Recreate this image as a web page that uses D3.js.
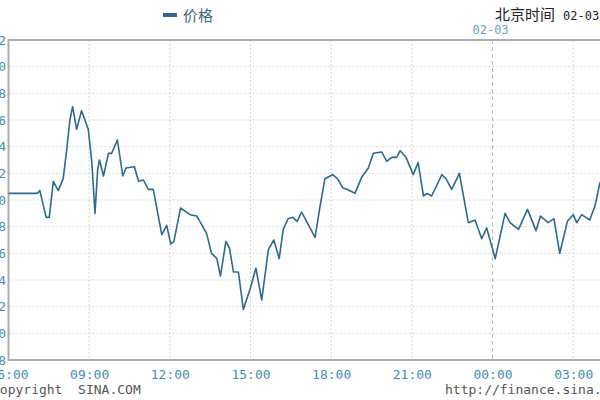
<!DOCTYPE html>
<html>
<head>
<meta charset="utf-8">
<script src="https://cdn.jsdelivr.net/npm/d3@7"></script>
<style>
  body { margin: 0; background: #fff; }
  svg { display: block; }
</style>
</head>
<body>
<svg id="chart"></svg>
<script>
// DATA
const times = [
  "06:00", "07:04", "07:10", "07:24", "07:31", "07:40", "07:51", "08:02", "08:10", "08:17",
  "08:23", "08:32", "08:43", "08:58", "09:06", "09:13", "09:19", "09:23", "09:32", "09:43",
  "09:50", "10:03", "10:15", "10:22", "10:41", "10:50", "11:01", "11:12", "11:23", "11:42",
  "11:53", "12:02", "12:09", "12:24", "12:45", "13:00", "13:07", "13:22", "13:33", "13:45",
  "13:53", "14:05", "14:13", "14:22", "14:33", "14:44", "14:59", "15:12", "15:25", "15:40",
  "15:52", "16:04", "16:13", "16:24", "16:34", "16:44", "16:54", "17:05", "17:24", "17:35",
  "17:46", "18:03", "18:14", "18:26", "18:35", "18:53", "19:08", "19:23", "19:34", "19:53",
  "20:04", "20:15", "20:26", "20:34", "20:47", "21:03", "21:14", "21:26", "21:34", "21:44",
  "22:07", "22:16", "22:29", "22:46", "23:06", "23:21", "23:36", "23:47", "00:06", "00:28",
  "00:39", "00:58", "01:18", "01:37", "01:47", "02:04", "02:17", "02:30", "02:47", "03:00",
  "03:08", "03:19", "03:37", "03:49", "03:59", "04:04"
];
const prices = [
  6.34405, 6.34405, 6.34407, 6.34387, 6.34387, 6.34414, 6.34407, 6.34416, 6.34438, 6.34460,
  6.34470, 6.34453, 6.34467, 6.34453, 6.34428, 6.34390, 6.34423, 6.34430, 6.34418, 6.34435,
  6.34435, 6.34445, 6.34418, 6.34424, 6.34425, 6.34414, 6.34415, 6.34408, 6.34408, 6.34374,
  6.34381, 6.34367, 6.34369, 6.34394, 6.34389, 6.34388, 6.34384, 6.34375, 6.34360, 6.34356,
  6.34343, 6.34369, 6.34364, 6.34346, 6.34346, 6.34318, 6.34333, 6.34349, 6.34325, 6.34363,
  6.34370, 6.34356, 6.34378, 6.34386, 6.34387, 6.34384, 6.34391, 6.34384, 6.34372, 6.34395,
  6.34416, 6.34419, 6.34416, 6.34409, 6.34408, 6.34405, 6.34417, 6.34424, 6.34435, 6.34436,
  6.34429, 6.34432, 6.34432, 6.34437, 6.34432, 6.34419, 6.34428, 6.34403, 6.34405, 6.34403,
  6.34419, 6.34416, 6.34408, 6.34420, 6.34383, 6.34385, 6.34371, 6.34379, 6.34356, 6.34390,
  6.34383, 6.34378, 6.34393, 6.34377, 6.34388, 6.34383, 6.34386, 6.34360, 6.34384, 6.34389,
  6.34383, 6.34389, 6.34385, 6.34396, 6.34412, 6.34416
];
const priceTicks = [
  6.3428, 6.3430, 6.3432, 6.3434, 6.3436, 6.3438, 6.3440,
  6.3442, 6.3444, 6.3446, 6.3448, 6.3450, 6.3452
];
const timeTicks = ["06:00", "09:00", "12:00", "15:00", "18:00", "21:00", "00:00", "03:00"];
const seriesName = "价格";
const headerLabel = "北京时间";
const headerStamp = "02-03 04:04";
const dayLabel = "02-03";

document.addEventListener("DOMContentLoaded", function () {
  const width = 600;
  const height = 400;
  const margin = { top: 40, left: 8.5, bottom: 40 };
  const hourPx = 26.89;

  const svg = d3.select("#chart").attr("width", width).attr("height", height);

  // TIME: hours before 06:00 belong to the next day
  const parse = d3.timeParse("%Y-%m-%d %H:%M");
  const toDate = (t) => parse((+t.slice(0, 2) < 6 ? "2022-02-03 " : "2022-02-02 ") + t);

  const data = times.map((t, i) => ({ date: toDate(t), price: prices[i] }));

  // SCALES
  const x = d3
    .scaleTime()
    .domain([toDate("06:00"), parse("2022-02-03 06:00")])
    .range([margin.left, margin.left + 24 * hourPx]);

  const y = d3
    .scaleLinear()
    .domain([d3.min(priceTicks), d3.max(priceTicks)])
    .range([height - margin.bottom, margin.top]);

  const mono = "'DejaVu Sans Mono', 'Liberation Mono', monospace";
  const cjk = "'Noto Sans CJK SC', 'Noto Sans', sans-serif";

  // GRID
  const grid = svg.append("g");
  grid
    .selectAll("line.h")
    .data(priceTicks.slice(1, -1))
    .enter()
    .append("line")
    .attr("x1", margin.left)
    .attr("x2", width)
    .attr("y1", (d) => y(d))
    .attr("y2", (d) => y(d))
    .attr("stroke", "#d4d4d4")
    .attr("stroke-dasharray", "2,2");

  grid
    .selectAll("line.v")
    .data(timeTicks.slice(1))
    .enter()
    .append("line")
    .attr("x1", (d) => x(toDate(d)))
    .attr("x2", (d) => x(toDate(d)))
    .attr("y1", margin.top)
    .attr("y2", height - margin.bottom)
    .attr("stroke", (d) => (d === "00:00" ? "#b8b8b8" : "#d4d4d4"))
    .attr("stroke-dasharray", (d) => (d === "00:00" ? "4,3" : "2,2"));

  // FRAME
  svg
    .append("path")
    .attr("d", `M${width},${margin.top}H${margin.left}V${height - margin.bottom}H${width}`)
    .attr("fill", "none")
    .attr("stroke", "#adadad")
    .attr("stroke-width", 2);

  // LINE
  const line = d3
    .line()
    .x((d) => x(d.date))
    .y((d) => y(d.price));

  svg
    .append("path")
    .datum(data)
    .attr("d", line)
    .attr("fill", "none")
    .attr("stroke", "#2f6a8a")
    .attr("stroke-width", 1.6)
    .attr("stroke-linejoin", "round");

  // AXES
  const yAxis = d3
    .axisLeft(y)
    .tickValues(priceTicks)
    .tickSize(0)
    .tickPadding(0)
    .tickFormat(d3.format(".4f"));

  svg
    .append("g")
    .attr("transform", "translate(6,0)")
    .call(yAxis)
    .call((g) => g.select(".domain").remove())
    .selectAll("text")
    .attr("fill", "#4a8db0")
    .style("font-family", mono)
    .style("font-size", "13px");

  const xAxis = d3
    .axisBottom(x)
    .tickValues(timeTicks.map(toDate))
    .tickSize(0)
    .tickPadding(0)
    .tickFormat(d3.timeFormat("%H:%M"));

  svg
    .append("g")
    .attr("transform", `translate(0,${height - margin.bottom + 10})`)
    .call(xAxis)
    .call((g) => g.select(".domain").remove())
    .selectAll("text")
    .attr("fill", "#4a8db0")
    .style("font-family", mono)
    .style("font-size", "13px");

  // DAY MARK
  svg
    .append("text")
    .attr("x", x(toDate("00:00")) - 2)
    .attr("y", 34)
    .attr("text-anchor", "middle")
    .attr("fill", "#6aa3c0")
    .style("font-family", mono)
    .style("font-size", "12px")
    .text(dayLabel);

  // LEGEND
  svg
    .append("rect")
    .attr("x", 163)
    .attr("y", 13)
    .attr("width", 14)
    .attr("height", 4)
    .attr("fill", "#2f6a8a");

  svg
    .append("text")
    .attr("x", 183)
    .attr("y", 21)
    .attr("fill", "#3d6580")
    .style("font-family", cjk)
    .style("font-size", "15px")
    .text(seriesName);

  const header = svg
    .append("text")
    .attr("x", 495)
    .attr("y", 20)
    .attr("fill", "#222");
  header.append("tspan").style("font-family", cjk).style("font-size", "15px").text(headerLabel);
  header
    .append("tspan")
    .attr("x", 563)
    .style("font-family", mono)
    .style("font-size", "12px")
    .text(headerStamp);

  // FOOTER
  svg
    .append("text")
    .attr("x", -8)
    .attr("y", 394)
    .attr("fill", "#555")
    .style("font-family", mono)
    .style("font-size", "13px")
    .style("white-space", "pre")
    .text("Copyright  SINA.COM");

  svg
    .append("text")
    .attr("x", 445)
    .attr("y", 394)
    .attr("fill", "#555")
    .style("font-family", mono)
    .style("font-size", "13px")
    .text("http://finance.sina.com.cn");
});
</script>
</body>
</html>
